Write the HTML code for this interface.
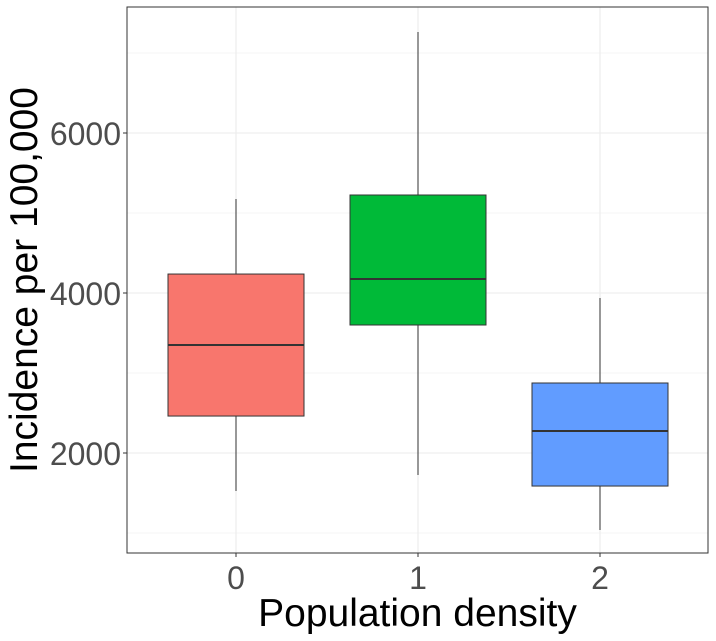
<!DOCTYPE html>
<html><head><meta charset="utf-8"><style>
body{margin:0;background:#fff;}
svg{display:block;font-family:"Liberation Sans",Arial,sans-serif;}
</style></head><body>
<svg id="chart" width="716" height="641">
<g id="grid"></g><g id="boxes"></g><g id="axes"></g>
</svg>
<script>
const categories=["0","1","2"];
const whiskerLow=[1525,1725,1037];
const q1=[2462,3600,1587];
const median=[3350,4175,2275];
const q3=[4237,5225,2875];
const whiskerHigh=[5175,7262,3937];
const colors=["#F8766D","#00BA38","#619CFF"];
const yTicks=[2000,4000,6000];
const yMinor=[1000,3000,5000,7000];

const L=127,R=708,T=7,B=553;
const y=v=>613-v*0.08;
const x=i=>236+i*182;
const hw=68;
const NS="http://www.w3.org/2000/svg";
function mk(tag,attrs,parent){const e=document.createElementNS(NS,tag);for(const k in attrs)e.setAttribute(k,attrs[k]);parent.appendChild(e);return e;}
const grid=document.getElementById('grid'),boxes=document.getElementById('boxes'),axes=document.getElementById('axes');
yMinor.forEach(v=>{const l=mk('line',{x1:L,x2:R,y1:y(v),y2:y(v),stroke:'#ebebeb','stroke-width':0.6},grid);

});
yTicks.forEach(v=>{const l=mk('line',{x1:L,x2:R,y1:y(v),y2:y(v),stroke:'#ebebeb','stroke-width':1.1},grid);


const t=mk('text',{x:L-6,y:y(v)+12,'text-anchor':'end','font-size':32,fill:'#4d4d4d'},axes);t.textContent=v;


mk('line',{x1:L-4,x2:L,y1:y(v),y2:y(v),stroke:'#333'},axes);});
categories.forEach((c,i)=>{const l=mk('line',{x1:x(i),x2:x(i),y1:T,y2:B,stroke:'#ebebeb','stroke-width':1.1},grid);


const t=mk('text',{x:x(i),y:B+36,'text-anchor':'middle','font-size':32,fill:'#4d4d4d'},axes);t.textContent=c;


mk('line',{x1:x(i),x2:x(i),y1:B,y2:B+4,stroke:'#333'},axes);
const g=mk('g',{},boxes);


mk('line',{x1:x(i),x2:x(i),y1:y(whiskerHigh[i]),y2:y(q3[i]),stroke:'#333','stroke-width':1},g);
mk('line',{x1:x(i),x2:x(i),y1:y(q1[i]),y2:y(whiskerLow[i]),stroke:'#333','stroke-width':1},g);
mk('rect',{x:x(i)-hw,y:y(q3[i]),width:hw*2,height:y(q1[i])-y(q3[i]),fill:colors[i],stroke:'#333','stroke-width':1},g);
mk('line',{x1:x(i)-hw,x2:x(i)+hw,y1:y(median[i]),y2:y(median[i]),stroke:'#333','stroke-width':2},g);
});
const r=mk('rect',{x:L,y:T,width:R-L,height:B-T,fill:'none',stroke:'#333','stroke-width':1},axes);


const xt=mk('text',{x:(L+R)/2,y:626,'text-anchor':'middle','font-size':39,fill:'#000'},axes);xt.textContent='Population density';


const yt=mk('text',{x:0,y:0,'text-anchor':'middle','font-size':39,fill:'#000',transform:'translate(37,280) rotate(-90)'},axes);yt.textContent='Incidence per 100,000';


</script>
</body></html>
